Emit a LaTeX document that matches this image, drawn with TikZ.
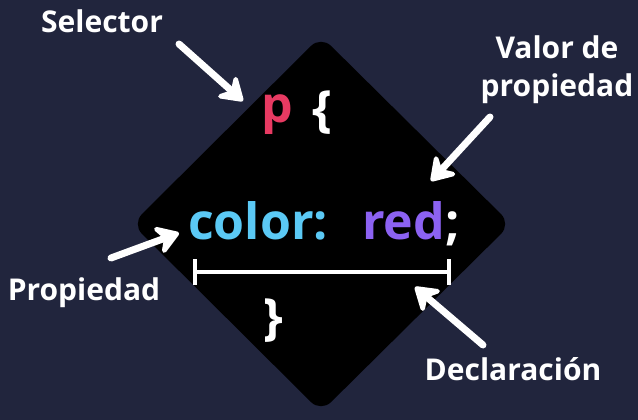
\documentclass[tikz,border=0pt]{standalone}
\usepackage{fontspec}
\setmainfont{Open Sans}
\usetikzlibrary{arrows.meta}
\definecolor{bg}{HTML}{21253D}
\definecolor{pinkc}{HTML}{E83A62}
\definecolor{cyanc}{HTML}{5BC9F5}
\definecolor{purplec}{HTML}{8C62F2}
\tikzset{
  lbl/.style={text=white,font=\bfseries\fontsize{30}{39}\selectfont,inner sep=0pt,anchor=base},
  code/.style={font=\bfseries\fontsize{50}{56}\selectfont,inner sep=0pt,anchor=base west},
  bigarrow/.style={white,line width=7pt,line cap=round,-{Stealth[length=28pt,width=36pt,inset=10pt,round]}},
}
\begin{document}
\begin{tikzpicture}[x=1pt,y=-1pt]
\useasboundingbox (0,0) rectangle (638,420);
\fill[bg] (0,0) rectangle (638,420);
\fill[black,rounded corners=14pt] (321,36) -- (511,224) -- (321,412) -- (132,224) -- cycle;
% code text
\node[code,text=pinkc] (p) at (261,122) {p};
\node[code,text=white] (ob) at (312,126) {\{};
\node[code,text=cyanc] (color) at (188,239) {color:};
\node[code,text=purplec] (red) at (362,239) {red};
\node[code,text=white,anchor=base west] (semi) at (red.base east) {;};
\node[code,text=white] (cb) at (263,334) {\}};
% declaration bar
\coordinate (bl) at (195,272);
\coordinate (br) at (449,272);
\draw[white,line width=4pt] (bl) -- (br);
\draw[white,line width=4pt] ([yshift=-13pt]bl) -- ([yshift=13pt]bl);
\draw[white,line width=4pt] ([yshift=-13pt]br) -- ([yshift=13pt]br);
% labels
\node[lbl] (sel) at (102,33) {Selector};
\node[lbl,align=center,anchor=base] (val) at (557,97) {Valor de\\propiedad};
\node[lbl] (prop) at (84,300) {Propiedad};
\node[lbl] (decl) at (513,380) {Declaración};
% arrows
\coordinate (s1) at (179,44); \coordinate (s2) at (243,101);
\coordinate (v1) at (490,117); \coordinate (v2) at (431,181);
\coordinate (p1) at (111,258); \coordinate (p2) at (179,233);
\coordinate (d1) at (483,345); \coordinate (d2) at (415,287);
\draw[bigarrow] (s1) -- (s2);
\draw[bigarrow] (v1) -- (v2);
\draw[bigarrow] (p1) -- (p2);
\draw[bigarrow] (d1) -- (d2);
\end{tikzpicture}
\end{document}
